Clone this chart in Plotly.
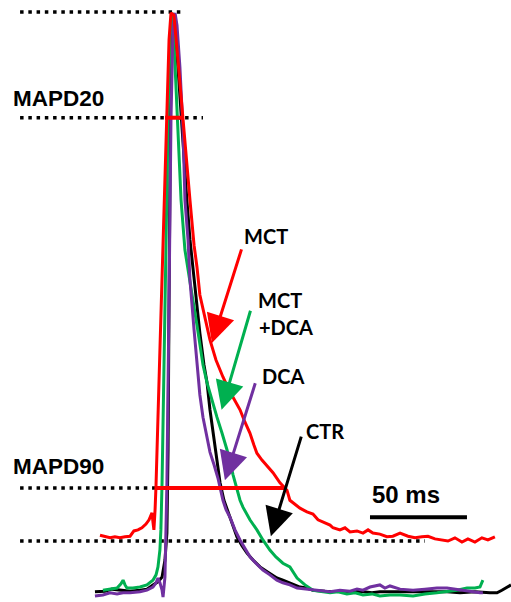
import plotly.graph_objects as go

# Time in ms, amplitude in % of normalised MCT action potential
mct_t = [0, 2.6, 5.2, 7.7, 10.3, 12.9, 15.5, 17.5, 19.6, 21.6, 23.7, 25.3, 26.8, 27.3, 27.8, 28.4, 28.9, 30.9, 33.0,
         34.5, 35.6, 36.6, 38.1, 40.2, 42.8, 44.8, 46.4, 48.5, 50.0, 51.5, 53.1, 55.2, 56.7, 59.8, 63.4, 67.0, 72.2,
         74.7, 77.3, 79.4, 80.9, 83.5, 86.1, 89.2, 92.8, 96.4, 97.9, 103.1, 106.7, 109.8, 112.4, 115.0, 118.6, 120.1,
         123.7, 126.3, 128.9, 132.5, 135.6, 138.2, 140.7, 144.3, 147.9, 151.0, 154.7, 158.8, 162.4, 166.0, 169.1,
         172.7, 176.3, 179.4, 183.0, 186.6, 189.7, 193.3, 196.9, 200.0, 203.6]
mct_a = [1.1, 0.8, 0.6, 0.8, 0.6, 0.8, 0.9, 1.9, 2.1, 2.5, 3.2, 4.0, 5.3, 3.6, 2.1, 5.9, 10.6, 36.1, 64.4,
         83.4, 94.7, 99.8, 99.4, 90.9, 79.6, 70.1, 64.4, 55.9, 51.8, 46.5, 43.7, 40.3, 38.0, 34.2, 31.0, 28.2, 24.8,
         22.5, 20.4, 18.1, 16.6, 15.3, 14.2, 12.9, 11.0, 9.6, 7.7, 6.2, 5.5, 5.1, 4.0, 3.6, 3.0, 2.5,
         2.1, 2.5, 1.7, 1.9, 1.5, 2.1, 1.5, 1.3, 0.8, 0.9, 1.5, 0.9, 0.6, 0.8, 0.9,
         0.4, 0.2, 0.0, 0.6, -0.2, 0.4, -0.2, 0.6, 0.2, 0.8]

mctdca_t = [1.5, 5.2, 8.8, 10.8, 11.9, 12.9, 13.9, 17.0, 20.6, 24.2, 27.3, 28.9, 29.9, 30.9, 31.4, 32.0, 33.5, 35.1,
            36.1, 37.1, 38.1, 39.2, 40.2, 41.8, 43.8, 46.4, 47.9, 50.0, 51.5, 53.1, 55.2, 57.7, 60.3, 62.9, 65.5,
            68.6, 72.2, 73.7, 77.3, 80.9, 84.0, 87.6, 90.7, 94.3, 97.9, 101.6, 105.7, 109.8, 114.4, 118.6, 122.7,
            127.3, 131.5, 135.6, 140.2, 144.3, 149.5, 154.7, 161.4, 167.5, 173.7, 178.9, 184.0, 189.2, 193.3, 195.9,
            197.4]
mctdca_a = [-9.3, -9.1, -8.9, -8.1, -7.4, -8.3, -8.9, -8.9, -8.7, -8.3, -7.4, -6.4, -4.9, -1.7, 2.1, 11.0, 45.5, 79.6,
            94.7, 99.8, 94.7, 85.2, 75.8, 64.4, 55.0, 48.4, 45.5, 40.8, 37.0, 33.3, 29.9, 26.6, 23.4, 20.4, 17.2,
            12.5, 7.7, 6.4, 4.0, 2.1, 0.2, -1.7, -3.0, -4.2, -4.9, -7.0, -8.3, -9.3, -9.5, -9.8, -9.6,
            -10.0, -9.8, -10.2, -10.0, -10.4, -10.2, -10.2, -10.4, -10.0, -9.8, -9.6, -9.3, -8.9, -8.9, -8.7,
            -7.4]

ctr_t = [-2.6, 2.6, 6.2, 10.3, 15.5, 20.6, 24.2, 27.3, 29.9, 32.0, 33.5, 34.5, 35.1, 35.6, 36.1, 36.6, 37.6, 38.7,
         40.2, 42.3, 44.8, 46.4, 49.0, 51.5, 53.6, 55.2, 56.7, 58.3, 60.3, 61.9, 63.9, 67.0, 70.6, 73.2, 75.8, 78.9,
         82.5, 86.6, 91.2, 94.3, 97.9, 103.1, 106.7, 109.8, 116.0, 121.1, 127.3, 134.0, 140.2, 144.3, 152.1, 161.4,
         170.1, 178.9, 185.6, 193.3, 201.0, 204.7, 207.2, 209.8, 211.9]
ctr_a = [-9.6, -9.5, -9.1, -9.3, -9.5, -9.3, -9.1, -8.3, -7.7, -6.8, -3.6, 1.5, 17.2, 45.5, 73.9, 92.9, 99.8, 96.6,
         89.6, 77.7, 64.4, 56.9, 47.4, 39.3, 33.3, 29.9, 24.8, 20.4, 15.3, 11.0, 7.7, 4.5, 0.8, -0.9, -2.3, -3.6,
         -4.9, -5.9, -7.0, -7.4, -7.9, -8.7, -8.9, -9.3, -9.5, -9.6, -9.6, -9.5, -9.8, -9.6, -9.6, -9.6,
         -9.5, -9.6, -9.8, -9.6, -9.8, -9.8, -9.3, -8.7, -8.3]

dca_t = [-2.6, 1.5, 5.2, 8.8, 11.9, 15.5, 20.6, 24.2, 27.3, 28.9, 29.9, 30.9, 32.0, 32.5, 33.5, 34.0, 34.5, 35.6,
         36.6, 37.6, 38.7, 39.7, 41.2, 42.8, 43.8, 45.4, 46.4, 48.5, 50.0, 51.5, 53.1, 55.2, 56.7, 58.8, 60.8, 63.4,
         65.0, 67.0, 69.6, 72.2, 74.7, 77.3, 80.4, 84.0, 87.6, 91.2, 94.3, 97.9, 101.6, 105.7, 109.8, 114.4, 118.6,
         123.7, 128.9, 132.5, 135.6, 139.2, 141.8, 144.3, 146.9, 149.5, 154.7, 161.4, 167.5, 173.7, 178.9, 185.6,
         190.7, 195.9, 197.4]
dca_a = [-10.4, -10.2, -9.8, -10.0, -9.8, -9.8, -9.6, -9.3, -8.7, -7.9, -7.0, -7.9, -9.3, -10.6, -6.8, 0.2, 11.0, 45.5,
         79.6, 96.6, 99.8, 97.5, 89.6, 77.7, 64.4, 56.9, 49.3, 39.9, 32.9, 27.6, 23.4, 19.1, 16.8, 14.4, 11.9, 7.7,
         5.9, 4.5, 2.1, 0.2, -1.5, -3.0, -4.2, -5.5, -6.4, -7.4, -7.9, -8.3, -8.9, -9.1, -9.3, -9.5, -9.6,
         -9.3, -9.5, -9.1, -9.3, -8.7, -8.5, -8.3, -8.9, -8.5, -9.1, -9.3, -9.1, -8.9, -8.9, -9.3,
         -9.6, -9.8, -9.8]

# Reference levels (% amplitude) and MAPD markers of the MCT trace
levels = {"peak": 100, "MAPD20": 80, "MAPD90": 10, "base": 0}
dot_start = -41.2
dot_ends = {"peak": 43.8, "MAPD20": 53.1, "MAPD90": 30.0, "base": 167.5}
mapd20_span = [33.5, 42.8]
mapd90_span = [28.4, 95.4]
scale_bar_ms = 50
scale_bar_start = 139.2
scale_bar_level = 4.5

RED = "#FF0000"
GREEN = "#00B050"
PURPLE = "#7030A0"
BLACK = "#000000"

fig = go.Figure()

for key in ["peak", "MAPD20", "MAPD90", "base"]:
    fig.add_trace(go.Scatter(x=[dot_start, dot_ends[key]], y=[levels[key]] * 2, mode="lines",
                             line=dict(color=BLACK, width=3.5, dash="3.5px,4.75px"), hoverinfo="skip"))

for t, a, c in [(ctr_t, ctr_a, BLACK), (mctdca_t, mctdca_a, GREEN), (dca_t, dca_a, PURPLE), (mct_t, mct_a, RED)]:
    fig.add_trace(go.Scatter(x=t, y=a, mode="lines", line=dict(color=c, width=3)))

fig.add_trace(go.Scatter(x=mapd20_span, y=[levels["MAPD20"]] * 2, mode="lines", line=dict(color=RED, width=4)))
fig.add_trace(go.Scatter(x=mapd90_span, y=[levels["MAPD90"]] * 2, mode="lines", line=dict(color=RED, width=4)))
fig.add_trace(go.Scatter(x=[scale_bar_start, scale_bar_start + scale_bar_ms], y=[scale_bar_level] * 2,
                         mode="lines", line=dict(color=BLACK, width=4)))

arrows = [
    # tip (t, a), tail (t, a), colour
    ((57.7, 37.4), (73.2, 55.4), RED),
    ((62.7, 24.8), (77.8, 43.8), GREEN),
    ((64.4, 11.5), (80.3, 30.1), PURPLE),
    ((88.1, 0.9), (104.0, 20.0), BLACK),
]
for (tx, ty), (sx, sy), c in arrows:
    fig.add_annotation(x=tx, y=ty, ax=sx, ay=sy, axref="x", ayref="y", xref="x", yref="y", text="",
                       showarrow=True, arrowhead=2, arrowsize=1.9, arrowwidth=3, arrowcolor=c)

lab_font = dict(family="Lato", size=20, color=BLACK)
labels = [("MCT", 73.2, 57.6), ("MCT", 80.5, 45.5), ("+DCA", 81.0, 40.4), ("DCA", 82.4, 31.1), ("CTR", 105.3, 20.8)]
for txt, x, y in labels:
    fig.add_annotation(x=x, y=y, text="<b>%s</b>" % txt, showarrow=False, xanchor="left", yanchor="middle",
                       font=lab_font)

big_font = dict(family="Liberation Sans, Arial", size=22.5, color=BLACK)
fig.add_annotation(x=-45.8, y=83.6, text="<b>MAPD20</b>", showarrow=False, xanchor="left", yanchor="middle",
                   font=big_font)
fig.add_annotation(x=-45.8, y=14.0, text="<b>MAPD90</b>", showarrow=False, xanchor="left", yanchor="middle",
                   font=big_font)
fig.add_annotation(x=157.7, y=8.8, text="<b>50 ms</b>", showarrow=False, xanchor="center", yanchor="middle",
                   font=dict(family="Liberation Sans, Arial", size=24, color=BLACK))

fig.update_layout(width=511, height=602, margin=dict(l=0, r=0, t=0, b=0), showlegend=False,
                  paper_bgcolor="white", plot_bgcolor="white",
                  xaxis=dict(range=[-51.55, 211.9], visible=False, fixedrange=True),
                  yaxis=dict(range=[-11.53, 102.25], visible=False, fixedrange=True))
fig.write_html("out.html", config={"displayModeBar": False},
               post_script="document.body.style.margin='0px';document.body.style.padding='0px';")
